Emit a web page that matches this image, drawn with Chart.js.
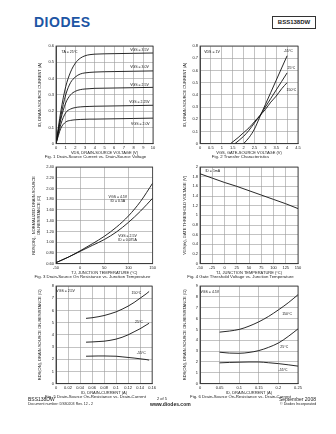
<!DOCTYPE html>
<html>
<head>
<meta charset="UTF-8">
<title>BSS138DW typical characteristics</title>
<script src="https://cdn.jsdelivr.net/npm/chart.js@4.4.1/dist/chart.umd.min.js"></script>
<style>
  body { margin: 0; width: 336px; height: 434px; background: #fff; position: relative; overflow: hidden;
         font-family: "Liberation Sans", Arial, sans-serif; color: #222; }
  canvas { position: absolute; }
  .logo { position: absolute; left: 34px; top: 14px; font-size: 14px; font-weight: bold; color: #1d55a4; letter-spacing: 0.5px; }
  .part { position: absolute; left: 272px; top: 16px; width: 42px; height: 11px; border: 1px solid #333; font-size: 6px;
          font-weight: bold; text-align: center; line-height: 11px; }
  .tiny { position: absolute; white-space: nowrap; transform-origin: 0 0; }
  .tinyr { position: absolute; white-space: nowrap; transform-origin: 100% 0; text-align: right; }
</style>
</head>
<body>
<div class="logo">DIODES</div>
<div class="part">BSS138DW</div>

<canvas id="fig1" width="120" height="119" style="left:38px;top:40px"></canvas>
<canvas id="fig2" width="121" height="119" style="left:183px;top:40px"></canvas>
<canvas id="fig3" width="126" height="118" style="left:32px;top:161px"></canvas>
<canvas id="fig4" width="121" height="118" style="left:183px;top:161px"></canvas>
<canvas id="fig5" width="120" height="119" style="left:38px;top:280px"></canvas>
<canvas id="fig6" width="121" height="119" style="left:183px;top:280px"></canvas>

<div class="tiny" style="left:28px;top:396px;font-size:10px;transform:scale(0.5)">BSS138DW</div>
<div class="tiny" style="left:28px;top:402px;font-size:8px;transform:scale(0.45)">Document number: DS30203 Rev. 12 - 2</div>
<div class="tiny" style="left:157px;top:396px;font-size:8px;transform:scale(0.5)">2 of 5</div>
<div class="tiny" style="left:150px;top:401px;font-size:10px;font-weight:bold;transform:scale(0.5)">www.diodes.com</div>
<div class="tinyr" style="right:20px;top:396px;font-size:10px;transform:scale(0.5)">September 2008</div>
<div class="tinyr" style="right:20px;top:402px;font-size:8px;transform:scale(0.45)">© Diodes Incorporated</div>

<script>
  var F = '"Liberation Sans", Arial, sans-serif';

  // Fig. 1 drain current vs drain-source voltage
  var fig1Vds = [0, 0.5, 1, 1.5, 2, 2.5, 3, 3.5, 4, 5, 6, 8, 10];
  var fig1Vgs35 = [0, 0.2, 0.35, 0.44, 0.495, 0.525, 0.54, 0.547, 0.55, 0.552, 0.553, 0.555, 0.557];
  var fig1Vgs30 = [0, 0.17, 0.30, 0.375, 0.41, 0.428, 0.435, 0.438, 0.44, 0.442, 0.443, 0.445, 0.447];
  var fig1Vgs25 = [0, 0.15, 0.25, 0.30, 0.322, 0.332, 0.336, 0.338, 0.34, 0.341, 0.342, 0.344, 0.346];
  var fig1Vgs225 = [0, 0.12, 0.19, 0.213, 0.222, 0.226, 0.228, 0.229, 0.23, 0.231, 0.232, 0.234, 0.236];
  var fig1Vgs20 = [0, 0.095, 0.133, 0.143, 0.147, 0.149, 0.15, 0.151, 0.151, 0.152, 0.153, 0.155, 0.157];
  var fig1NoteText = ["TA = 25°C", "VGS = 3.5V", "VGS = 3.0V", "VGS = 2.5V", "VGS = 2.25V", "VGS = 2.0V"];
  var fig1NoteX = [1.4, 8.6, 8.6, 8.6, 8.6, 8.7];
  var fig1NoteY = [0.565, 0.575, 0.468, 0.36, 0.258, 0.12];

  // Fig. 2 transfer characteristics
  var fig2VgsCold = [2.0, 2.25, 2.5, 2.75, 3, 3.25, 3.5, 3.75, 4];
  var fig2IdCold = [0, 0.05, 0.12, 0.22, 0.32, 0.42, 0.52, 0.62, 0.72];
  var fig2VgsRoom = [1.6, 2, 2.25, 2.5, 2.75, 3, 3.25, 3.5, 3.75, 4];
  var fig2IdRoom = [0, 0.06, 0.11, 0.17, 0.23, 0.3, 0.37, 0.44, 0.51, 0.58];
  var fig2VgsHot = [1.4, 1.75, 2, 2.25, 2.5, 2.75, 3, 3.25, 3.5, 3.75, 4];
  var fig2IdHot = [0, 0.05, 0.09, 0.13, 0.18, 0.23, 0.28, 0.34, 0.39, 0.45, 0.5];
  var fig2NoteText = ["VDS = 1V", "-55°C", "25°C", "150°C"];
  var fig2NoteX = [0.55, 4.05, 4.2, 4.2];
  var fig2NoteY = [0.75, 0.755, 0.62, 0.44];

  // Fig. 3 normalized on-resistance vs junction temperature
  var fig3Tj = [-50, -25, 0, 25, 50, 75, 100, 125, 150];
  var fig3Rds45 = [0.62, 0.72, 0.84, 0.97, 1.11, 1.28, 1.49, 1.76, 2.1];
  var fig3Rds25 = [0.62, 0.72, 0.83, 0.94, 1.05, 1.19, 1.37, 1.58, 1.82];
  var fig3NoteText = ["VGS = 4.5V", "ID = 0.5A", "VGS = 2.5V", "ID = 0.075A"];
  var fig3NoteX = [78, 78, 98, 98];
  var fig3NoteY = [1.84, 1.76, 1.12, 1.04];

  // Fig. 4 gate threshold voltage vs junction temperature
  var fig4Tj = [-50, -25, 0, 25, 50, 75, 100, 125, 150];
  var fig4Vth = [1.86, 1.77, 1.68, 1.6, 1.51, 1.42, 1.33, 1.24, 1.14];
  var fig4NoteText = ["ID = 1mA"];
  var fig4NoteX = [-24];
  var fig4NoteY = [1.92];

  // Fig. 5 on-resistance vs drain current, VGS = 2.5V
  var fig5Id = [0.05, 0.06, 0.07, 0.08, 0.09, 0.1, 0.11, 0.12, 0.13, 0.14, 0.15, 0.155];
  var fig5Hot = [5.35, 5.4, 5.48, 5.58, 5.72, 5.88, 6.1, 6.35, 6.65, 7.0, 7.35, 7.55];
  var fig5Room = [3.4, 3.42, 3.45, 3.48, 3.55, 3.65, 3.8, 4.0, 4.25, 4.5, 4.8, 4.95];
  var fig5Cold = [2.25, 2.26, 2.27, 2.27, 2.26, 2.25, 2.2, 2.15, 2.1, 2.04, 1.98, 1.93];
  var fig5NoteText = ["VGS = 2.5V", "150°C", "25°C", "-55°C"];
  var fig5NoteX = [0.016, 0.134, 0.138, 0.142];
  var fig5NoteY = [7.6, 7.4, 5.05, 2.5];

  // Fig. 6 on-resistance vs drain current, VGS = 4.5V
  var fig6Id = [0.05, 0.075, 0.1, 0.125, 0.15, 0.175, 0.2, 0.225, 0.25];
  var fig6Hot = [4.75, 4.85, 5.0, 5.3, 5.7, 6.2, 6.8, 7.45, 8.2];
  var fig6Room = [2.9, 2.82, 2.8, 2.88, 3.05, 3.35, 3.75, 4.35, 5.05];
  var fig6Cold = [1.92, 1.96, 1.98, 2.0, 2.0, 1.93, 1.85, 1.74, 1.62];
  var fig6NoteText = ["VGS = 4.5V", "150°C", "25°C", "-55°C"];
  var fig6NoteX = [0.025, 0.222, 0.215, 0.212];
  var fig6NoteY = [8.4, 6.45, 3.4, 1.3];

  // frame around the plot and the small labels inside it
  var annotate = {
    id: 'annotate',
    afterDatasetsDraw: function(chart, args, opts) {
      var ctx = chart.ctx, a = chart.chartArea, x = chart.scales.x, y = chart.scales.y;
      ctx.save();
      ctx.strokeStyle = '#333';
      ctx.lineWidth = 0.8;
      ctx.strokeRect(a.left, a.top, a.right - a.left, a.bottom - a.top);
      ctx.fillStyle = '#111';
      ctx.font = '3.5px ' + F;
      ctx.textAlign = 'center';
      ctx.textBaseline = 'middle';
      for (var i = 0; i < opts.text.length; i++) {
        ctx.fillText(opts.text[i], x.getPixelForValue(opts.x[i]), y.getPixelForValue(opts.y[i]));
      }
      ctx.restore();
    }
  };

  // tick labels without floating point noise
  function plain(v) { return String(parseFloat(v.toFixed(3))); }

  function line(xs, ys) {
    return {
      data: xs.map(function(v, i) { return {x: v, y: ys[i]}; }),
      borderColor: '#111', borderWidth: 0.9, pointRadius: 0,
      cubicInterpolationMode: 'monotone', fill: false
    };
  }

  function axis(min, max, step, title, fit, fmt) {
    return {
      type: 'linear', min: min, max: max,
      ticks: {stepSize: step, autoSkip: false, maxRotation: 0, padding: 2, color: '#222',
              font: {size: 4, family: F, lineHeight: 1}, callback: fmt || plain},
      grid: {color: '#9a9a9a', lineWidth: 0.6, drawTicks: false},
      border: {color: '#333', width: 0.8},
      title: {display: true, text: title, color: '#222', font: {size: 4, family: F, lineHeight: 1.1},
              padding: {top: 0, bottom: 0}},
      afterFit: fit
    };
  }

  function makeChart(id, o) {
    new Chart(document.getElementById(id), {
      type: 'line',
      data: {datasets: o.series},
      options: {
        responsive: false, animation: false, devicePixelRatio: 1,
        layout: {padding: {top: 6, right: o.padRight, left: 0, bottom: 0}},
        plugins: {
          legend: {display: false}, tooltip: {enabled: false},
          title: {display: true, position: 'bottom', text: o.caption, color: '#222',
                  font: {size: 4.3, family: F, weight: 'normal', lineHeight: 1}, padding: {top: 0, bottom: 0}},
          annotate: o.notes
        },
        scales: {
          x: axis(o.x[0], o.x[1], o.x[2], o.xTitle, function(s) { s.height = 11; }),
          y: axis(o.y[0], o.y[1], o.y[2], o.yTitle, function(s) { s.width = o.yWidth; }, o.yFmt)
        }
      },
      plugins: [annotate]
    });
  }

  makeChart('fig1', {
    series: [line(fig1Vds, fig1Vgs35), line(fig1Vds, fig1Vgs30), line(fig1Vds, fig1Vgs25),
             line(fig1Vds, fig1Vgs225), line(fig1Vds, fig1Vgs20)],
    x: [0, 10, 1], y: [0, 0.6, 0.1], yWidth: 18, padRight: 5,
    xTitle: 'VDS, DRAIN-SOURCE VOLTAGE (V)', yTitle: 'ID, DRAIN-SOURCE CURRENT (A)',
    caption: 'Fig. 1 Drain-Source Current vs. Drain-Source Voltage',
    notes: {text: fig1NoteText, x: fig1NoteX, y: fig1NoteY}
  });

  makeChart('fig2', {
    series: [line(fig2VgsCold, fig2IdCold), line(fig2VgsRoom, fig2IdRoom), line(fig2VgsHot, fig2IdHot)],
    x: [0, 4.5, 0.5], y: [0, 0.8, 0.1], yWidth: 17, padRight: 6,
    xTitle: 'VGS, GATE-SOURCE VOLTAGE (V)', yTitle: 'ID, DRAIN-SOURCE CURRENT (A)',
    caption: 'Fig. 2 Transfer Characteristics',
    notes: {text: fig2NoteText, x: fig2NoteX, y: fig2NoteY}
  });

  makeChart('fig3', {
    series: [line(fig3Tj, fig3Rds45), line(fig3Tj, fig3Rds25)],
    x: [-50, 150, 50], y: [0.6, 2.4, 0.2], yWidth: 24, padRight: 5,
    yFmt: function(v) { return v.toFixed(2); },
    xTitle: 'TJ, JUNCTION TEMPERATURE (°C)',
    yTitle: ['RDS(ON),  NORMALIZED DRAIN-SOURCE', 'ON-RESISTANCE (Ω)'],
    caption: 'Fig. 3 Drain-Source On Resistance vs. Junction Temperature',
    notes: {text: fig3NoteText, x: fig3NoteX, y: fig3NoteY}
  });

  makeChart('fig4', {
    series: [line(fig4Tj, fig4Vth)],
    x: [-50, 150, 25], y: [0, 2, 0.2], yWidth: 17, padRight: 6,
    xTitle: 'TJ, JUNCTION TEMPERATURE (°C)', yTitle: 'VGS(th), GATE THRESHOLD VOLTAGE (V)',
    caption: 'Fig. 4 Gate Threshold Voltage vs. Junction Temperature',
    notes: {text: fig4NoteText, x: fig4NoteX, y: fig4NoteY}
  });

  makeChart('fig5', {
    series: [line(fig5Id, fig5Hot), line(fig5Id, fig5Room), line(fig5Id, fig5Cold)],
    x: [0, 0.16, 0.02], y: [0, 8, 1], yWidth: 18, padRight: 5,
    xTitle: 'ID, DRAIN-CURRENT (A)', yTitle: 'RDS(ON), DRAIN-SOURCE ON-RESISTANCE (Ω)',
    caption: 'Fig. 5 Drain-Source On-Resistance vs. Drain-Current',
    notes: {text: fig5NoteText, x: fig5NoteX, y: fig5NoteY}
  });

  makeChart('fig6', {
    series: [line(fig6Id, fig6Hot), line(fig6Id, fig6Room), line(fig6Id, fig6Cold)],
    x: [0, 0.25, 0.05], y: [0, 9, 1], yWidth: 17, padRight: 6,
    xTitle: 'ID, DRAIN-CURRENT (A)', yTitle: 'RDS(ON), DRAIN-SOURCE ON-RESISTANCE (Ω)',
    caption: 'Fig. 6 Drain-Source On-Resistance vs. Drain-Current',
    notes: {text: fig6NoteText, x: fig6NoteX, y: fig6NoteY}
  });
</script>
</body>
</html>
